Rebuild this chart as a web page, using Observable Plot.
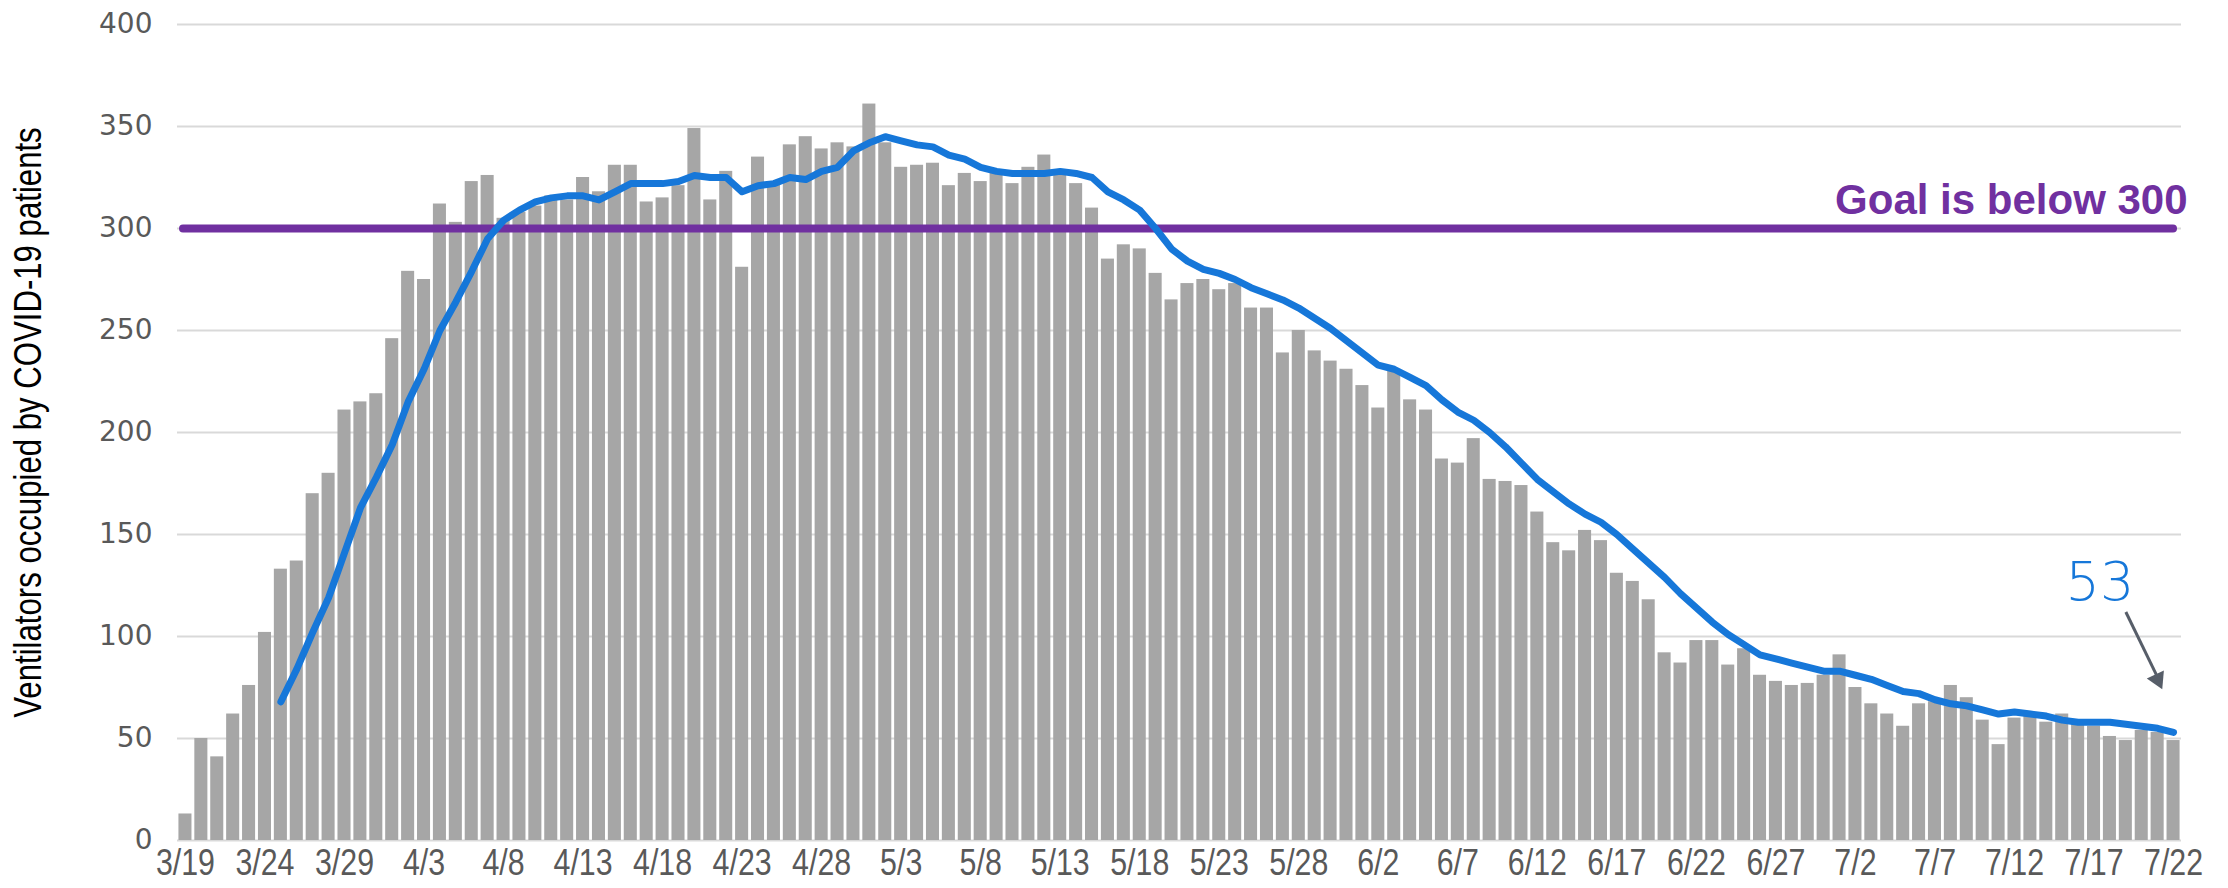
<!DOCTYPE html>
<html><head><meta charset="utf-8">
<script src="https://cdn.jsdelivr.net/npm/d3@7"></script>
<script src="https://cdn.jsdelivr.net/npm/@observablehq/plot@0.6"></script>
<style>
body{margin:0;background:#fff;}
#chart svg{background:#fff;}
</style></head><body><div id="chart"></div>
<script>
const dates = [
"3/19","3/20","3/21","3/22","3/23","3/24","3/25","3/26","3/27","3/28","3/29","3/30","3/31",
"4/1","4/2","4/3","4/4","4/5","4/6","4/7","4/8","4/9","4/10","4/11","4/12","4/13","4/14","4/15","4/16","4/17","4/18","4/19","4/20","4/21","4/22","4/23","4/24","4/25","4/26","4/27","4/28","4/29","4/30",
"5/1","5/2","5/3","5/4","5/5","5/6","5/7","5/8","5/9","5/10","5/11","5/12","5/13","5/14","5/15","5/16","5/17","5/18","5/19","5/20","5/21","5/22","5/23","5/24","5/25","5/26","5/27","5/28","5/29","5/30","5/31",
"6/1","6/2","6/3","6/4","6/5","6/6","6/7","6/8","6/9","6/10","6/11","6/12","6/13","6/14","6/15","6/16","6/17","6/18","6/19","6/20","6/21","6/22","6/23","6/24","6/25","6/26","6/27","6/28","6/29","6/30",
"7/1","7/2","7/3","7/4","7/5","7/6","7/7","7/8","7/9","7/10","7/11","7/12","7/13","7/14","7/15","7/16","7/17","7/18","7/19","7/20","7/21","7/22"
];
const ventilators = [
13,50,41,62,76,102,133,137,170,180,211,215,219,
246,279,275,312,303,323,326,305,308,311,316,314,325,318,331,331,313,315,321,349,314,328,281,335,322,341,345,339,342,340,
361,342,330,331,332,321,327,323,327,322,330,336,327,322,310,285,292,290,278,265,273,275,270,273,261,261,239,250,240,235,231,
223,212,230,216,211,187,185,197,177,176,174,161,146,142,152,147,131,127,118,92,87,98,98,86,94,81,78,76,77,81,
91,75,67,62,56,67,68,76,70,59,47,60,61,58,62,57,56,51,49,54,53,49
];
const avg7 = [
null,null,null,null,null,null,68,84,102,119,141,163,178,
194,215,231,250,264,279,295,304,309,313,315,316,316,314,318,322,322,322,323,326,325,325,318,321,322,325,324,328,330,338,
342,345,343,341,340,336,334,330,328,327,327,327,328,327,325,318,314,309,300,290,284,280,278,275,271,268,265,261,256,251,245,
239,233,231,227,223,216,210,206,200,193,185,177,171,165,160,156,150,143,136,129,121,114,107,101,96,91,89,87,85,83,
83,81,79,76,73,72,69,67,66,64,62,63,62,61,59,58,58,58,57,56,55,53
];
const xTickLabels = ["3/19","3/24","3/29","4/3","4/8","4/13","4/18","4/23","4/28","5/3","5/8","5/13","5/18","5/23","5/28","6/2","6/7","6/12","6/17","6/22","6/27","7/2","7/7","7/12","7/17","7/22"];
const yTicks = [0,50,100,150,200,250,300,350,400];
const goal = 300;
const goalLabel = "Goal is below 300";
const yTitle = "Ventilators occupied by COVID-19 patients";
const lastAvgLabel = "53";

const data = dates.map((d, i) => ({date: d, value: ventilators[i], avg: avg7[i]}));
const sans = "'Liberation Sans',Arial,sans-serif";

const chart = Plot.plot({
  width: 2228,
  height: 888,
  marginLeft: 177,
  marginRight: 47,
  marginTop: 24,
  marginBottom: 48,
  x: {type: "band", domain: dates, paddingInner: 0.18, paddingOuter: 0.09, align: 0.5, axis: null},
  y: {domain: [0, 400], axis: null},
  marks: [
    Plot.ruleY(yTicks, {stroke: "#d9d9d9", strokeWidth: 2}),
    Plot.barY(data, {x: "date", y: "value", fill: "#a6a6a6"}),
    Plot.ruleY([goal], {stroke: "#7030a0", strokeWidth: 8, strokeLinecap: "round", insetLeft: 6, insetRight: 8}),
    Plot.line(data, {x: "date", y: "avg", stroke: "#1677d9", strokeWidth: 7, strokeLinecap: "round", strokeLinejoin: "round"}),
    Plot.axisY({ticks: yTicks, tickSize: 0, tickPadding: 25, fontSize: 28, fontFamily: "'DejaVu Sans',sans-serif", fill: "#595959", label: null}),
    Plot.axisX({ticks: xTickLabels, tickSize: 0, tickPadding: 8, fontSize: 37, fontFamily: sans, fill: "#595959", label: null}),
    Plot.text([yTitle], {text: d => d, frameAnchor: "left", dx: -149, dy: -10, rotate: -90, textAnchor: "middle", lineAnchor: "middle", fontSize: 38, fontFamily: sans, fill: "#000"}),
    Plot.text([goalLabel], {text: d => d, x: () => dates[dates.length - 1], y: () => goal, textAnchor: "end", lineAnchor: "bottom", dx: 14, dy: -15, fontSize: 42, fontWeight: "bold", fontFamily: sans, fill: "#7030a0"}),
    Plot.text([lastAvgLabel], {text: d => d, x: () => "7/18", y: () => 118, textAnchor: "middle", lineAnchor: "bottom", dx: -10, fontSize: 54, fontWeight: 300, fontFamily: "'DejaVu Sans',sans-serif", fill: "#1677d9"}),
    Plot.link([0], {x1: () => "7/19", y1: () => 112, x2: () => "7/21", y2: () => 80, stroke: "#575e69", strokeWidth: 3}),
    Plot.dot([0], {x: () => "7/21", y: () => 79, symbol: "triangle", r: 7, rotate: 155, fill: "#575e69", stroke: "none"})
  ]
});
// condensed look for the narrow fonts of the original
const squeeze = new Set([...xTickLabels, yTitle]);
chart.querySelectorAll("text").forEach(t => {
  if (squeeze.has(t.textContent)) {
    const tr = t.getAttribute("transform") || "";
    t.setAttribute("transform", tr + " scale(0.82,1)");
  }
});
document.getElementById("chart").appendChild(chart);
</script>
</body></html>
